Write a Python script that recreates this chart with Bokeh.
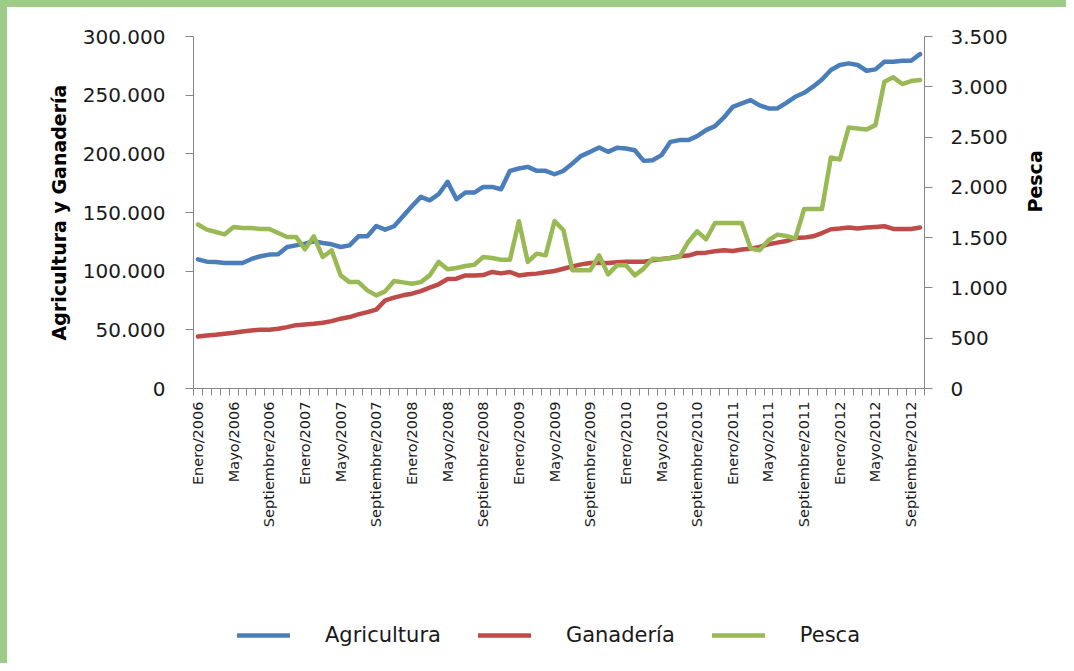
import math
from bokeh.plotting import figure
from bokeh.layouts import column, row
from bokeh.models import (Range1d, LinearAxis, FixedTicker, CustomJSTickFormatter, Legend, Div)
from bokeh.embed import file_html
from bokeh.resources import INLINE

nombres_meses = ["Enero", "Febrero", "Marzo", "Abril", "Mayo", "Junio", "Julio",
                 "Agosto", "Septiembre", "Octubre", "Noviembre", "Diciembre"]
anios = [2006, 2007, 2008, 2009, 2010, 2011, 2012]
meses = [f"{m}/{a}" for a in anios for m in nombres_meses][:82]

agricultura = [110100, 108100, 107800, 107000, 107000, 107000, 110400, 112700, 114100, 114400,
               120600, 122000, 123500, 125500, 124000, 122900, 120600, 122000, 129700, 129700,
               138500, 135400, 138300, 146800, 155300, 163300, 160400, 165600, 176100, 161300,
               167000, 167000, 171800, 171800, 169800, 185500, 187500, 188900, 185500, 185500,
               182600, 185500, 191800, 198300, 201700, 205400, 201700, 205100, 204600, 203100,
               194000, 194600, 198900, 210200, 211700, 211700, 215100, 220200, 223600, 231000,
               240100, 243000, 245800, 241300, 238700, 238700, 243500, 248600, 252000, 257200,
               263400, 271400, 275700, 277100, 275700, 270800, 272000, 278500, 278500, 279300,
               279300, 285000]

ganaderia = [44400, 45200, 45800, 46700, 47500, 48600, 49500, 50100, 50100, 50900,
             52300, 54000, 54600, 55200, 56100, 57400, 59500, 60900, 63200, 65100,
             67200, 75100, 77400, 79400, 80800, 83000, 85900, 88800, 93300, 93600,
             96400, 96400, 96700, 99300, 98100, 99300, 96400, 97300, 97900, 99000,
             100100, 102100, 104100, 105800, 106900, 106900, 106900, 107500, 108100, 108100,
             108100, 109200, 110400, 111200, 112700, 113300, 115500, 115800, 116900, 117800,
             117200, 118400, 119200, 120600, 122900, 124300, 125700, 128300, 128600, 129700,
             132500, 135700, 136300, 137200, 136300, 137200, 137700, 138300, 136000, 136000,
             136000, 137200]

pesca = [1630, 1580, 1556, 1533, 1606, 1596, 1596, 1586, 1586, 1546,
         1507, 1507, 1384, 1513, 1307, 1374, 1125, 1058, 1058, 976,
         926, 966, 1068, 1055, 1042, 1058, 1125, 1258, 1185, 1198,
         1218, 1231, 1307, 1297, 1281, 1281, 1663, 1258, 1341, 1324,
         1666, 1573, 1175, 1175, 1175, 1324, 1135, 1225, 1225, 1125,
         1192, 1291, 1284, 1297, 1307, 1457, 1563, 1484, 1646, 1646,
         1646, 1646, 1391, 1374, 1474, 1530, 1517, 1490, 1785, 1785,
         1785, 2297, 2277, 2596, 2586, 2576, 2619, 3050, 3094, 3027,
         3057, 3067]

ticks_izq = [0, 50000, 100000, 150000, 200000, 250000, 300000]
ticks_der = [0, 500, 1000, 1500, 2000, 2500, 3000, 3500]
series = ["Agricultura", "Ganadería", "Pesca"]
colores = ["#4A7EBB", "#BE4B48", "#98B954"]

x = [i + 0.5 for i in range(len(meses))]
valores = [agricultura, ganaderia, pesca]

FONT = "DejaVu Sans"
AXIS_GRAY = "#868686"
TXT = "#1a1a1a"
FRAME_GREEN = "#9dcc88"

p = figure(width=1059, height=531, output_backend="svg", toolbar_location=None,
           x_range=Range1d(0, len(meses)), y_range=Range1d(0, ticks_izq[-1]),
           min_border_left=186, min_border_right=142, min_border_top=29, min_border_bottom=150)
p.extra_y_ranges = {"pesca": Range1d(0, ticks_der[-1])}
p.outline_line_color = None
p.xgrid.visible = False
p.ygrid.visible = False
p.background_fill_color = "white"
p.border_fill_color = "white"

sep_code = r"return Math.round(tick).toString().replace(/\B(?=(\d{3})+(?!\d))/g, '.');"

# Left axis
ya = p.yaxis[0]
ya.ticker = FixedTicker(ticks=ticks_izq)
ya.formatter = CustomJSTickFormatter(code=sep_code)
ya.axis_label = "Agricultura y Ganadería"
ya.axis_label_text_font = FONT
ya.axis_label_text_font_style = "bold"
ya.axis_label_text_font_size = "19px"
ya.axis_label_text_color = "black"
ya.axis_label_standoff = 10
ya.major_label_text_font = FONT
ya.major_label_text_font_size = "20px"
ya.major_label_text_color = TXT
ya.major_label_standoff = 20
ya.major_tick_out = 8
ya.major_tick_in = 0
ya.minor_tick_line_color = None
ya.major_tick_line_color = AXIS_GRAY
ya.axis_line_color = AXIS_GRAY

# Right axis
yb = LinearAxis(y_range_name="pesca", ticker=FixedTicker(ticks=ticks_der),
                formatter=CustomJSTickFormatter(code=sep_code), axis_label="Pesca")
yb.axis_label_text_font = FONT
yb.axis_label_text_font_style = "bold"
yb.axis_label_text_font_size = "19px"
yb.axis_label_text_color = "black"
yb.axis_label_standoff = 24
yb.axis_label_orientation = math.pi / 2
yb.major_label_text_font = FONT
yb.major_label_text_font_size = "20px"
yb.major_label_text_color = TXT
yb.major_label_standoff = 18
yb.major_tick_out = 8
yb.major_tick_in = 0
yb.minor_tick_line_color = None
yb.major_tick_line_color = AXIS_GRAY
yb.axis_line_color = AXIS_GRAY
p.add_layout(yb, "right")

# X axis
xa = p.xaxis[0]
xa.ticker = FixedTicker(ticks=[i + 0.5 for i in range(0, len(meses), 4)],
                        minor_ticks=list(range(0, len(meses) + 1)))
xa.formatter = CustomJSTickFormatter(args=dict(labels=meses),
                                     code="const i = Math.round(tick - 0.5); return labels[i] || '';")
xa.major_label_orientation = math.pi / 2
xa.major_label_text_font = FONT
xa.major_label_text_font_size = "14.5px"
xa.major_label_text_color = TXT
xa.major_label_standoff = 6
xa.major_tick_out = 0
xa.major_tick_in = 0
xa.minor_tick_out = 7
xa.minor_tick_in = 0
xa.minor_tick_line_color = AXIS_GRAY
xa.axis_line_color = AXIS_GRAY

for nombre, vals, col in zip(series, valores, colores):
    kw = dict(y_range_name="pesca") if nombre == "Pesca" else {}
    p.line(x, vals, line_color=col, line_width=4.5, line_join="round", line_cap="round", **kw)

# legend strip (separate figure below the chart); its lines lie outside its view
q = figure(width=1059, height=125, output_backend="svg", toolbar_location=None,
           x_axis_location=None, y_axis_location=None,
           min_border_left=0, min_border_right=0, min_border_top=0, min_border_bottom=0,
           x_range=Range1d(0, len(meses)), y_range=Range1d(-2, -1))
q.outline_line_color = None
q.xgrid.visible = False
q.ygrid.visible = False
items = []
for nombre, vals, col in zip(series, valores, colores):
    r = q.line(x, vals, line_color=col, line_width=4.5, line_cap="round")
    items.append((nombre, [r]))
legend = Legend(items=items, orientation="horizontal", location=(44, 16),
                glyph_width=53, glyph_height=20, label_standoff=35, spacing=37,
                padding=0, margin=0, border_line_color=None, background_fill_alpha=0,
                label_text_font=FONT, label_text_font_size="21px", label_text_color=TXT)
q.add_layout(legend)

top_strip = Div(text="", width=1059, height=7, margin=0,
                styles={"background-color": FRAME_GREEN})
left_strip = Div(text="", width=7, height=663, margin=0,
                 styles={"background-color": FRAME_GREEN})

layout = row(left_strip, column(top_strip, p, q, spacing=0), spacing=0)
open("out.html", "w").write(file_html(layout, INLINE))
